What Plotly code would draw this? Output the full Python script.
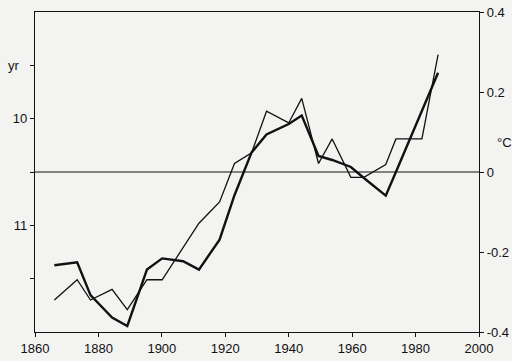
import plotly.graph_objects as go

# vertex years (shared by both curves)
years = [1866.1, 1873.3, 1877.5, 1884.3, 1889.1, 1895.3, 1900.1, 1906.7, 1911.7,
         1918.2, 1922.9, 1928.3, 1933.0, 1940.0, 1944.1, 1949.4, 1953.7, 1959.6,
         1963.7, 1970.6, 1973.8, 1982.0, 1987.1]

# thin line: solar cycle length (yr, left axis, inverted)
cycle_length = [11.70, 11.51, 11.70, 11.60, 11.79, 11.51, 11.51, 11.21, 10.98,
                10.78, 10.42, 10.32, 9.93, 10.04, 9.81, 10.42, 10.19, 10.55,
                10.55, 10.43, 10.19, 10.19, 9.40]

# thick line: temperature anomaly (degC, right axis)
temperature = [-0.233, -0.226, -0.308, -0.364, -0.385, -0.244, -0.216, -0.223, -0.244,
               -0.169, -0.058, 0.049, 0.094, 0.120, 0.141, 0.040, 0.030, 0.0125,
               -0.015, -0.059, 0.000, 0.1525, 0.248]

x_ticks = [1860, 1880, 1900, 1920, 1940, 1960, 1980, 2000]
yr_tickvals = [9.5, 10, 10.5, 11, 11.5]
yr_ticktext = ["", "10", "", "11", ""]
c_tickvals = [-0.4, -0.2, 0, 0.2, 0.4]
c_ticktext = ["-0.4", "-0.2", "0", "0.2", "0.4"]

ink = "#111111"
bg = "#f3f3f1"
font = dict(family="Liberation Sans, Arial, sans-serif", size=13, color=ink)

fig = go.Figure()
fig.add_trace(go.Scatter(x=years, y=cycle_length, mode="lines",
                         line=dict(color=ink, width=1.3), yaxis="y",
                         showlegend=False, hoverinfo="skip"))
fig.add_trace(go.Scatter(x=years, y=temperature, mode="lines",
                         line=dict(color=ink, width=2.4), yaxis="y2",
                         showlegend=False, hoverinfo="skip"))

fig.add_shape(type="line", xref="paper", x0=0, x1=1, yref="y2", y0=0, y1=0,
              line=dict(color=ink, width=1.2))

fig.add_annotation(text="yr", xref="paper", x=-0.03, yref="y", y=9.5,
                   showarrow=False, xanchor="right", yanchor="middle", font=font)
fig.add_annotation(text="°C", xref="paper", x=1.035, yref="y2", y=0.075,
                   showarrow=False, xanchor="left", yanchor="middle", font=font)

common = dict(ticks="outside", ticklen=4, tickcolor=ink, showline=True,
              linecolor=ink, linewidth=1.2, showgrid=False, zeroline=False,
              tickfont=font, automargin=False)

fig.update_layout(
    width=512, height=361,
    margin=dict(l=35, r=33, t=12, b=29, autoexpand=False),
    paper_bgcolor=bg, plot_bgcolor=bg,
    font=font,
    xaxis=dict(range=[1860, 2000], tickvals=x_ticks, mirror=True, **common),
    yaxis=dict(range=[12, 9], tickvals=yr_tickvals, ticktext=yr_ticktext, **common),
    yaxis2=dict(range=[-0.4, 0.4], tickvals=c_tickvals, ticktext=c_ticktext,
                overlaying="y", side="right", **common),
)

fig.write_html(
    "out.html",
    config={"displayModeBar": False},
    post_script="document.body.style.margin='0';document.body.style.background='%s';" % bg,
)
